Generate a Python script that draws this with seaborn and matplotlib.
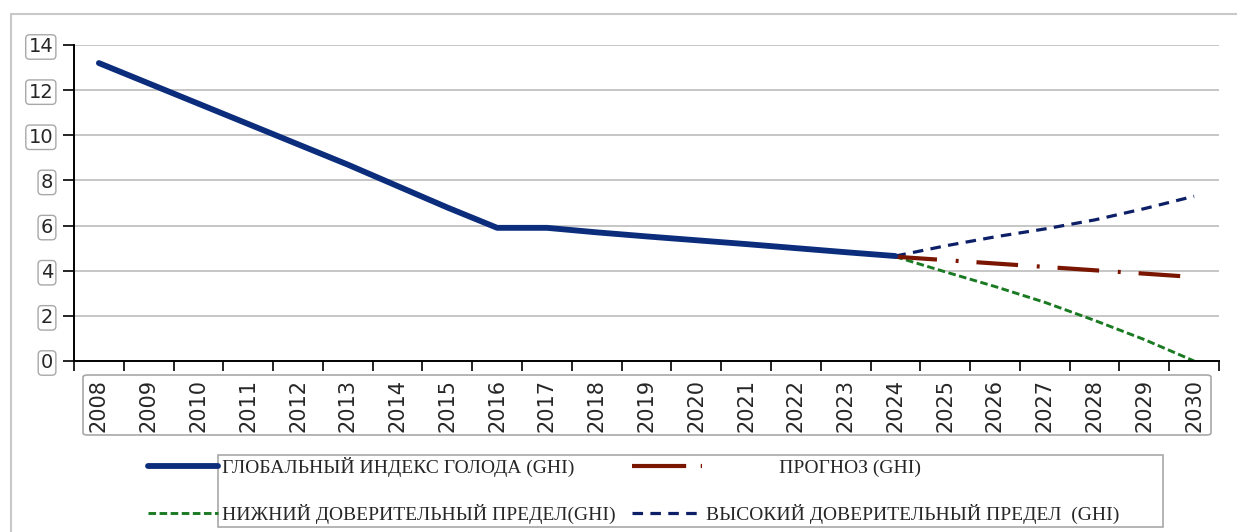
import numpy as np
import pandas as pd
import seaborn as sns
import matplotlib
matplotlib.use("Agg")
import matplotlib.pyplot as plt
from matplotlib.patches import FancyBboxPatch
from matplotlib.lines import Line2D

# Data
years = list(range(2008, 2031))
ghi_years = list(range(2008, 2025))
ghi_values = [13.2, 12.3, 11.4, 10.5, 9.6, 8.7, 7.75, 6.8, 5.9, 5.9,
              5.7, 5.52, 5.35, 5.18, 5.0, 4.82, 4.65]
fc_years = list(range(2024, 2031))
forecast = [4.62, 4.47, 4.32, 4.17, 4.02, 3.87, 3.72]
lower = [4.62, 3.95, 3.3, 2.6, 1.8, 0.95, 0.0]
upper = [4.65, 5.1, 5.5, 5.85, 6.25, 6.75, 7.3]
y_ticks = [0, 2, 4, 6, 8, 10, 12, 14]

labels = {
    "ghi": "ГЛОБАЛЬНЫЙ ИНДЕКС ГОЛОДА (GHI)",
    "fc": "ПРОГНОЗ (GHI)",
    "lo": "НИЖНИЙ ДОВЕРИТЕЛЬНЫЙ ПРЕДЕЛ(GHI)",
    "hi": "ВЫСОКИЙ ДОВЕРИТЕЛЬНЫЙ ПРЕДЕЛ  (GHI)",
}

sns.set_style("white")
plt.rcParams['font.family'] = ['DejaVu Sans']

fig = plt.figure(figsize=(12.37, 5.32), dpi=100)
W, H = 1237, 532
ax = fig.add_axes([74 / W, 1 - 361 / H, (1219 - 74) / W, (361 - 45) / H])

df_ghi = pd.DataFrame({"year": ghi_years, "value": ghi_values})
df_fc = pd.DataFrame({"year": fc_years, "forecast": forecast,
                      "lower": lower, "upper": upper})

navy = "#0b2d7c"
red = "#7a1500"
green = "#1a7a22"
navy2 = "#0d1f66"

ls_fc = (0, (10, 4.5, 0.7, 4.3))
ls_lo = (0, (2.6, 1.2))
ls_hi = (0, (3.3, 2.3))

# horizontal grid
for v in y_ticks[1:]:
    ax.axhline(v, color="#c6c6c6", lw=1.4, zorder=0)

sns.lineplot(data=df_fc, x="year", y="upper", ax=ax, color=navy2, lw=2.3,
             linestyle=ls_hi)
sns.lineplot(data=df_fc, x="year", y="lower", ax=ax, color=green, lw=2.1,
             linestyle=ls_lo)
sns.lineplot(data=df_fc, x="year", y="forecast", ax=ax, color=red, lw=3.0,
             linestyle=ls_fc)
sns.lineplot(data=df_ghi, x="year", y="value", ax=ax, color=navy, lw=4.2,
             solid_capstyle="round")

ax.set_xlim(years[0] - 0.5, years[-1] + 0.5)
ax.set_ylim(0, 14)
ax.set_xlabel("")
ax.set_ylabel("")
ax.grid(False)

# y axis
ax.set_yticks(y_ticks)
ax.set_yticklabels([str(v) for v in y_ticks], fontsize=14)
for lab in ax.get_yticklabels():
    lab.set_bbox(dict(boxstyle="round,pad=0.14,rounding_size=0.2",
                      fc="white", ec="#a8a8a8", lw=1.0))
ax.tick_params(axis="y", which="major", direction="out", length=8,
               width=1.2, color="black", pad=7, left=True)

# x axis: ticks at category boundaries, labels in the centre
ax.set_xticks([y - 0.5 for y in years] + [years[-1] + 0.5])
ax.set_xticklabels([])
ax.set_xticks(years, minor=True)
ax.set_xticklabels([str(y) for y in years], minor=True, rotation=90,
                   fontsize=15)
ax.tick_params(axis="x", which="major", direction="out", length=7,
               width=1.2, color="black", bottom=True)
ax.tick_params(axis="x", which="minor", length=0, pad=13)

for s in ["top", "right"]:
    ax.spines[s].set_visible(False)
for s in ["left", "bottom"]:
    ax.spines[s].set_color("black")
    ax.spines[s].set_linewidth(1.4)

# box around the year labels
fig.add_artist(FancyBboxPatch((83 / W, 1 - 435 / H), (1211 - 83) / W,
                              (435 - 375) / H, boxstyle="round,pad=0,rounding_size=0.004",
                              transform=fig.transFigure, fc="none",
                              ec="#a8a8a8", lw=1.2))

# outer chart frame (left and top edges)
fig.add_artist(Line2D([11 / W, 11 / W], [0, 1 - 14 / H],
                      transform=fig.transFigure, color="#c8c8c8", lw=1.5))
fig.add_artist(Line2D([11 / W, 1], [1 - 14 / H, 1 - 14 / H],
                      transform=fig.transFigure, color="#c8c8c8", lw=1.5))

# legend
handles = [
    Line2D([], [], color=navy, lw=4.2, solid_capstyle="round"),
    Line2D([], [], color=green, lw=2.1, linestyle=ls_lo),
    Line2D([], [], color=red, lw=3.0, linestyle=(0, (13, 3.5, 0.7, 4))),
    Line2D([], [], color=navy2, lw=2.3, linestyle=ls_hi),
]
leg_labels = [labels["ghi"], labels["lo"],
              " " * 15 + labels["fc"], labels["hi"]]
leg = fig.legend(handles, leg_labels, ncol=2, frameon=False,
                 loc="upper left", bbox_to_anchor=(140 / W, 1 - 449 / H),
                 prop={"family": "Liberation Serif", "size": 14},
                 handlelength=3.6, handletextpad=0.2, columnspacing=0.85,
                 labelspacing=1.4, borderaxespad=0)

fig.add_artist(FancyBboxPatch((218 / W, 1 - 527 / H), (1163 - 218) / W,
                              (527 - 455) / H, boxstyle="square,pad=0",
                              transform=fig.transFigure, fc="none",
                              ec="#a8a8a8", lw=1.2))

fig.savefig("out.png", dpi=100)
